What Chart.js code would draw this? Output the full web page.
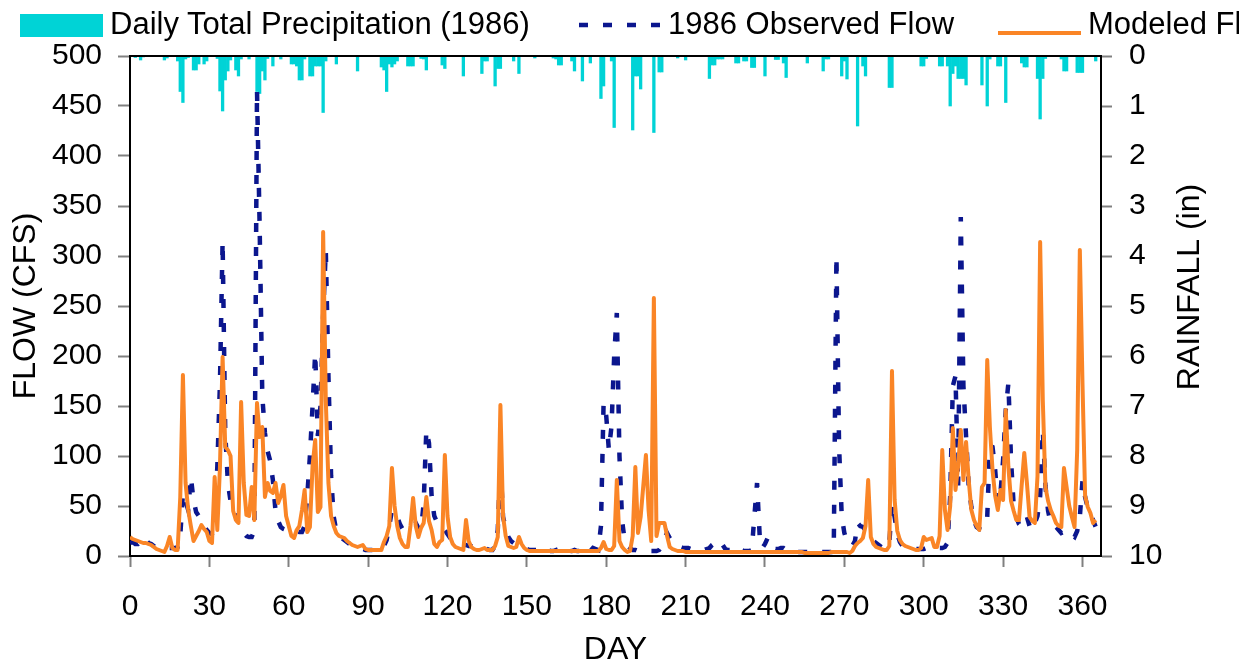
<!DOCTYPE html>
<html>
<head>
<meta charset="utf-8">
<script src="https://cdn.jsdelivr.net/npm/chart.js@4.4.1/dist/chart.umd.min.js"></script>
<style>
  html, body { margin: 0; padding: 0; background: #fff; }
  #wrap { position: relative; width: 1239px; height: 667px; overflow: hidden; }
  #legend { position: absolute; left: 0; top: 0; width: 1239px; height: 50px; overflow: hidden;
            font: 31px "Liberation Sans", Arial, sans-serif; color: #000; white-space: nowrap; }
  #legend .txt { position: absolute; top: 6px; line-height: 36px; }
</style>
</head>
<body>
<div id="wrap">
  <canvas id="flowChart" width="1239" height="667"></canvas>
  <div id="legend"></div>
</div>
<script>
// tick labels of the day axis
let dayTicks = [0, 30, 60, 90, 120, 150, 180, 210, 240, 270, 300, 330, 360]

// daily total precipitation, inches (day 0 .. 365)
let rainfall = [
  0,0,0.03,0,0.08,0.02,0,0,0,0,
  0,0,0,0.08,0.04,0,0,0,0.1,0.71,
  0.93,0.06,0.03,0,0.28,0.28,0.16,0,0.16,0.1,
  0,0,0,0.05,0.7,1.1,0.48,0.3,0.08,0,
  0.28,0.4,0.06,0,0,0.06,0,0,0.71,0.75,
  0.3,0.48,0.05,0,0.2,0,0,0.06,0,0,
  0,0.16,0.16,0.2,0.48,0.48,0.06,0,0.4,0.4,
  0.2,0.2,0.2,1.13,0.1,0,0,0,0.16,0,
  0,0,0,0,0,0,0.3,0,0,0,
  0,0,0,0,0,0.22,0.28,0.71,0.16,0.22,
  0.16,0.1,0,0,0,0.2,0.2,0.2,0,0,
  0.05,0.06,0.28,0,0,0,0,0,0.18,0.25,
  0,0,0,0,0,0,0.4,0,0,0,
  0,0,0,0.35,0.1,0.1,0,0,0.6,0.25,
  0.25,0,0,0,0,0.1,0,0.35,0,0,
  0,0,0,0.04,0,0,0,0,0,0,
  0.04,0.06,0.18,0.18,0,0,0,0.1,0.3,0,
  0,0.5,0,0,0.14,0,0,0,0.85,0.6,
  0,0,0.1,1.43,0,0,0,0,0,0,
  1.48,0.4,0.4,0.66,0,0,0,0,1.53,0,
  0.32,0.32,0,0,0,0,0,0.04,0,0,
  0.08,0,0,0,0,0,0,0,0,0.45,
  0.18,0.18,0.06,0.06,0.06,0,0,0,0,0.14,
  0.14,0,0.1,0.1,0,0.23,0.23,0,0,0,
  0.4,0,0,0,0.07,0.07,0,0.14,0.43,0,
  0,0,0,0,0,0,0.14,0,0,0,
  0,0,0.3,0.06,0.06,0,0,0,0,0.4,
  0.1,0.46,0,0,0,1.4,0,0.2,0.4,0,
  0,0,0,0,0,0,0,0.63,0.63,0,
  0,0,0,0,0,0,0,0,0,0.2,
  0.2,0.05,0,0,0,0,0.2,0.2,0,0.2,
  1.0,0.35,0.2,0.45,0.45,0.45,0.58,0,0,0,
  0,0,0.58,0,1.0,0.06,0,0,0.2,0.2,
  0,0.93,0,0,0,0,0,0.14,0.22,0.22,
  0,0,0,0.45,1.26,0.45,0.05,0,0,0,
  0,0,0.06,0.3,0.3,0,0,0,0.33,0.33,
  0.33,0,0,0,0,0.1
]

// 1986 observed flow, cfs
let observed = [
  13,14,12,12,15,19,16,13,12,10,
  9,8,8,8,8,8,8,8,9,20,
  63,55,46,79,56,44,40,36,30,26,
  23,22,35,89,173,315,123,73,55,46,
  40,33,28,23,20,19,19,25,466,330,
  160,123,105,95,76,45,35,29,27,26,
  26,25,26,25,24,24,30,60,100,150,
  203,120,150,240,306,180,80,39,25,20,
  18,16,14,12,11,10,9,8,7,6,
  6,6,6,6,6,6,10,16,30,46,
  42,39,32,27,26,28,29,31,33,28,
  26,53,126,113,60,40,34,29,27,26,
  22,18,16,15,14,12,11,11,10,10,
  9,9,9,8,8,7,6,6,10,26,
  93,39,28,19,15,13,11,10,9,8,
  7,6,6,6,6,5,6,8,6,5,
  5,6,7,9,6,5,5,5,6,5,
  5,7,9,6,5,8,7,6,30,153,
  140,106,130,200,243,100,35,15,10,8,
  6,6,5,5,5,5,5,5,5,5,
  6,10,18,23,18,14,12,10,9,8,
  8,8,7,6,6,6,6,6,7,8,
  11,13,9,8,11,7,6,6,6,7,
  9,6,5,5,5,6,40,73,20,8,
  12,18,10,8,7,7,8,8,6,5,
  4,4,4,4,4,4,4,4,4,4,
  4,4,4,4,4,4,8,300,110,40,
  23,15,12,10,15,33,30,29,26,23,
  18,15,13,11,9,7,8,13,53,39,
  22,14,10,9,8,8,7,7,7,7,
  7,8,8,7,7,8,8,8,9,13,
  60,170,180,70,339,170,120,70,49,35,
  29,27,26,33,39,110,109,86,53,63,
  96,146,173,96,50,39,32,29,35,39,
  30,26,33,40,60,126,70,45,33,30,
  29,26,23,24,26,24,21,19,25,39,
  75,59,48,43,36,29
]

// modeled flow, cfs
let modeled = [
  19,17,16,15,14,13,13,12,11,9,
  7,6,5,4,10,19,8,6,6,59,
  181,73,46,30,15,20,25,31,27,24,
  15,13,79,26,89,199,109,106,100,45,
  36,33,154,73,41,40,69,36,153,119,
  129,59,73,65,63,73,53,60,71,40,
  30,20,18,26,30,46,66,24,29,90,
  116,44,49,324,156,73,40,30,23,20,
  19,18,15,13,11,10,9,10,11,7,
  6,6,6,6,6,6,14,20,30,88,
  50,30,18,12,9,9,30,58,30,19,
  28,33,59,35,26,12,9,14,16,101,
  40,19,12,9,8,7,6,36,15,9,
  7,6,6,7,8,6,6,6,10,19,
  151,40,20,10,9,8,9,19,12,8,
  6,5,5,5,5,5,5,5,5,5,
  5,5,5,5,5,5,5,5,5,5,
  5,5,5,5,5,5,5,5,8,14,
  7,6,6,10,76,15,9,6,4,5,
  20,89,23,39,70,101,46,15,258,20,
  33,33,33,20,9,7,6,5,5,5,
  4,4,4,4,4,4,4,4,4,4,
  4,4,4,4,4,4,4,4,4,4,
  4,4,4,4,4,4,4,4,4,4,
  4,4,4,4,4,4,4,4,4,4,
  4,4,4,4,4,3,3,3,3,3,
  3,3,3,3,3,4,4,4,4,4,
  4,4,3,5,10,13,15,18,30,76,
  19,12,9,8,7,6,6,10,185,56,
  25,16,12,10,9,8,7,6,6,8,
  19,16,17,18,9,9,20,106,46,26,
  50,128,66,90,126,76,114,76,46,36,
  30,26,69,73,196,129,86,60,46,66,
  56,146,89,55,45,36,36,70,103,73,
  39,35,33,80,314,156,69,55,46,40,
  33,30,29,88,69,50,39,29,106,306,
  173,60,49,43,33,36
]

Chart.defaults.font.family = '"Liberation Sans", Arial, sans-serif'
Chart.defaults.color = '#000'

const tickFont = { size: 30 }
const titleFont = { size: 32, lineHeight: 1.05 }

// top frame line and the right-hand axis title (reads bottom to top, like the left one)
const frame = {
  id: 'frame',
  afterDraw(chart) {
    const { ctx, chartArea: a } = chart
    ctx.save()
    ctx.strokeStyle = '#000'
    ctx.lineWidth = 2
    ctx.beginPath()
    ctx.moveTo(a.left - 1, a.top)
    ctx.lineTo(a.right + 1, a.top)
    ctx.stroke()
    ctx.translate(chart.scales.y2.right - 49, 287)
    ctx.rotate(-Math.PI / 2)
    ctx.font = '32px "Liberation Sans", Arial, sans-serif'
    ctx.fillStyle = '#000'
    ctx.textAlign = 'center'
    ctx.textBaseline = 'middle'
    ctx.fillText('RAINFALL (in)', 0, 0)
    ctx.restore()
  }
}

const ctx = document.getElementById('flowChart').getContext('2d')

const chart = new Chart(ctx, {
  type: 'line',
  data: {
    datasets: [
      {
        type: 'bar',
        label: 'Daily Total Precipitation (1986)',
        data: rainfall.map((v, i) => ({ x: i, y: v })),
        yAxisID: 'y2',
        backgroundColor: '#00D3D6',
        borderWidth: 0,
        barPercentage: 1,
        categoryPercentage: 1,
        order: 3
      },
      {
        label: '1986 Observed Flow',
        data: observed.map((v, i) => ({ x: i, y: v })),
        yAxisID: 'y',
        borderColor: '#0B168E',
        borderWidth: 4.5,
        borderDash: [9, 15],
        borderCapStyle: 'butt',
        pointRadius: 0,
        tension: 0,
        order: 2
      },
      {
        label: 'Modeled Flow',
        data: modeled.map((v, i) => ({ x: i, y: v })),
        yAxisID: 'y',
        borderColor: '#FA8526',
        borderWidth: 4,
        borderJoinStyle: 'round',
        pointRadius: 0,
        tension: 0,
        order: 1
      }
    ]
  },
  options: {
    responsive: false,
    animation: false,
    events: [],
    layout: { padding: { top: 56, left: 0, right: 0, bottom: 0 } },
    plugins: { legend: { display: false }, tooltip: { enabled: false } },
    scales: {
      x: {
        type: 'linear',
        min: 0,
        max: 367,
        offset: false,
        afterBuildTicks: s => { s.ticks = dayTicks.map(v => ({ value: v })) },
        ticks: { font: tickFont, padding: 22, maxRotation: 0, autoSkip: false },
        grid: { offset: false, drawOnChartArea: false, tickLength: 11, tickColor: '#808080', tickWidth: 2 },
        border: { color: '#000', width: 2 },
        title: { display: true, text: 'DAY', font: titleFont, padding: { top: 0, bottom: 0 } },
        afterFit: s => { s.height = 111 }
      },
      y: {
        position: 'left',
        min: 0,
        max: 500,
        ticks: { stepSize: 50, font: tickFont, padding: 16 },
        grid: { drawOnChartArea: false, tickLength: 12, tickColor: '#808080', tickWidth: 2 },
        border: { color: '#000', width: 2 },
        title: { display: true, text: 'FLOW (CFS)', font: { size: 32 }, padding: { top: 7, bottom: 0 } },
        afterFit: s => { s.width = 130 }
      },
      y2: {
        position: 'right',
        reverse: true,
        min: 0,
        max: 10,
        ticks: { stepSize: 1, font: tickFont, padding: 17 },
        grid: { drawOnChartArea: false, tickLength: 11, tickColor: '#808080', tickWidth: 2 },
        border: { color: '#000', width: 2 },
        afterFit: s => { s.width = 138 }
      }
    }
  },
  plugins: [frame]
})

// html legend, samples drawn from the dataset styles
const legend = document.getElementById('legend')
const legendLeft = [20, 579, 998]
const legendText = [110, 668, 1088]
chart.data.datasets.forEach((ds, i) => {
  let sample
  if (ds.type === 'bar') {
    sample = `<div style="position:absolute;left:${legendLeft[i]}px;top:14px;width:83px;height:23px;background:${ds.backgroundColor}"></div>`
  } else {
    const y = ds.borderDash ? 25 : 33
    const dash = ds.borderDash ? `stroke-dasharray="${ds.borderDash.join(' ')}"` : ''
    sample = `<svg style="position:absolute;left:${legendLeft[i]}px;top:0" width="84" height="50">
      <line x1="0" y1="${y}" x2="83" y2="${y}" stroke="${ds.borderColor}" stroke-width="${ds.borderWidth}" ${dash}/></svg>`
  }
  legend.insertAdjacentHTML('beforeend', sample +
    `<span class="txt" style="left:${legendText[i]}px">${ds.label}</span>`)
})
</script>
</body>
</html>
